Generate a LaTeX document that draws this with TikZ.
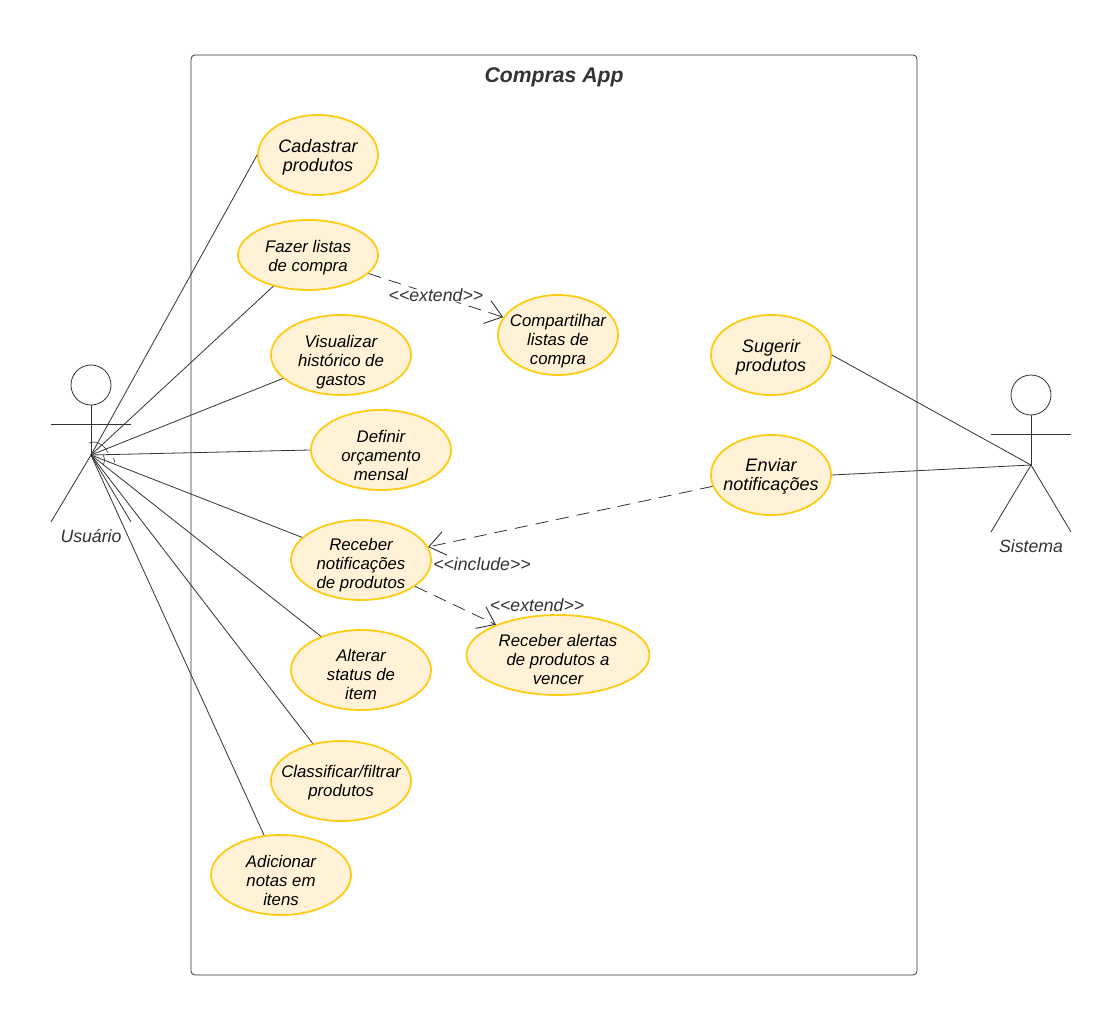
\documentclass[tikz,border=0pt]{standalone}
\usepackage{fontspec}
\setmainfont{Liberation Sans}
\usetikzlibrary{shapes.geometric,arrows.meta}
\definecolor{ucfill}{HTML}{FFF2D6}
\definecolor{ucline}{HTML}{FFCC14}
\definecolor{ink}{HTML}{333333}
\newcommand{\uctxt}[2]{\raisebox{#1}[0pt][0pt]{\begin{tabular}[c]{@{}c@{}}#2\end{tabular}}}
\tikzset{
 uc/.style={ellipse,draw=ucline,fill=ucfill,line width=1.8pt,inner sep=-40pt,font=\fontsize{16.8}{19}\selectfont\itshape,text=black},
 ucbig/.style={uc,font=\fontsize{18}{19}\selectfont\itshape},
 conn/.style={draw=ink,line width=0.8pt},
 dep/.style={conn,dash pattern=on 13pt off 8pt,-{Straight Barb[length=16pt,width=24pt,line width=0.9pt]}},
 lbl/.style={font=\fontsize{17.7}{20}\selectfont\itshape,text=ink,inner sep=0pt},
 stereo/.style={lbl,fill=white},
 actorline/.style={draw=ink,line width=0.8pt}
}
\begin{document}
\begin{tikzpicture}[x=1pt,y=-1pt]
\useasboundingbox (0,0) rectangle (1119,1032);
\fill[white] (0,0) rectangle (1119,1032);
\node[draw=ink,line width=0.8pt,rounded corners=4pt,minimum width=726pt,minimum height=920pt,inner sep=0pt] (frame) at (554,515) {};
\node[font=\fontsize{21.2}{24}\selectfont\bfseries\itshape,text=ink,inner sep=0pt] (title) at (554,77) {Compras App};

\node[ucbig,minimum width=120pt,minimum height=80pt] (a) at (318,155) {\uctxt{-8pt}{Cadastrar\\produtos}};
\node[uc,minimum width=140pt,minimum height=70pt] (b) at (308,255) {\uctxt{-8pt}{Fazer listas\\de compra}};
\node[uc,minimum width=140pt,minimum height=80pt] (c) at (341,355) {\uctxt{-12pt}{Visualizar\\histórico de\\gastos}};
\node[uc,minimum width=140pt,minimum height=80pt] (d) at (381,450) {\uctxt{-12pt}{Definir\\orçamento\\mensal}};
\node[uc,minimum width=140pt,minimum height=80pt] (e) at (361,560) {\uctxt{-10pt}{Receber\\notificações\\de produtos}};
\node[uc,minimum width=140pt,minimum height=80pt] (f) at (361,670) {\uctxt{-11pt}{Alterar\\status de\\item}};
\node[uc,minimum width=140pt,minimum height=80pt] (g) at (341,781) {\uctxt{-7pt}{Classificar/filtrar\\produtos}};
\node[uc,minimum width=140pt,minimum height=80pt] (h) at (281,875) {\uctxt{-12pt}{Adicionar\\notas em\\itens}};
\node[uc,minimum width=120pt,minimum height=80pt] (comp) at (558,335) {\uctxt{-11pt}{Compartilhar\\listas de\\compra}};
\node[uc,minimum width=183pt,minimum height=80pt] (alert) at (558,655) {\uctxt{-11pt}{Receber alertas\\de produtos a\\vencer}};
\node[ucbig,minimum width=120pt,minimum height=80pt] (sug) at (771,355) {\uctxt{-8pt}{Sugerir\\produtos}};
\node[ucbig,minimum width=120pt,minimum height=80pt] (env) at (771,475) {\uctxt{-7pt}{Enviar\\notificações}};

% actors
\node[draw=ink,circle,line width=0.8pt,minimum size=40pt,inner sep=0pt] (uhead) at (91,385) {};
\coordinate (uhub) at (91,455);
\coordinate (uarmL) at (51,424);
\coordinate (uarmR) at (131,424);
\coordinate (ulegL) at (51,522);
\coordinate (ulegR) at (131,522);
\draw[actorline] (uhead.south) -- (uhub);
\draw[actorline] (uarmL) -- (uarmR);
\draw[actorline] (ulegL) -- (uhub) -- (ulegR);
\node[lbl] (ulabel) at (91,536) {Usuário};
\draw[actorline,line width=0.6pt] (89,443) .. controls (96,440) and (105,445) .. (108,453);
\draw[actorline,line width=0.6pt] (103,455) .. controls (105,458) and (105,462) .. (103,465);
\draw[actorline,line width=0.6pt] (113,458) .. controls (115,459) and (115,462) .. (114,463);

\node[draw=ink,circle,line width=0.8pt,minimum size=40pt,inner sep=0pt] (shead) at (1031,395) {};
\coordinate (shub) at (1031,465);
\coordinate (sarmL) at (991,434);
\coordinate (sarmR) at (1071,434);
\coordinate (slegL) at (991,532);
\coordinate (slegR) at (1071,532);
\draw[actorline] (shead.south) -- (shub);
\draw[actorline] (sarmL) -- (sarmR);
\draw[actorline] (slegL) -- (shub) -- (slegR);
\node[lbl] (slabel) at (1031,546) {Sistema};

% associations
\draw[conn] (uhub) -- (a.west);
\draw[conn] (uhub) -- (b.222);
\draw[conn] (uhub) -- (c.202);
\draw[conn] (uhub) -- (d.west);
\draw[conn] (uhub) -- (e.159);
\draw[conn] (uhub) -- (f.140);
\draw[conn] (uhub) -- (g.127);
\draw[conn] (uhub) -- (h.113);
\draw[conn] (shub) -- (sug.east);
\draw[conn] (shub) -- (env.east);

% dependencies
\draw[dep] (b.343) -- (comp.162) node[stereo,pos=0.5] (l1) {<{}<extend>{}>};
\draw[dep] (env.191) -- (e.11);
\draw[dep] (e.334) -- (alert.154);
\node[lbl] (l2) at (482,564) {<{}<include>{}>};
\node[lbl] (l3) at (537,605) {<{}<extend>{}>};
\end{tikzpicture}
\end{document}
